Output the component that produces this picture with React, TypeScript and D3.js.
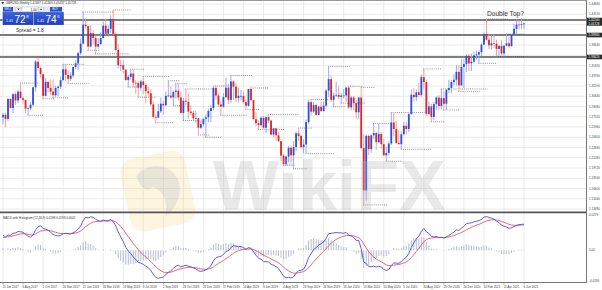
import React from "react";
import * as d3 from "d3";

// ---------- DATA (GBPUSD weekly, bar 0 = 11 Jun 2017) ----------
const firstOpen = 1.2745;

const highs = [
  // 2017 (Jun 11 – Dec 24)
  1.2815, 1.2815, 1.3030, 1.3030, 1.3115, 1.3125, 1.3165, 1.3265, 1.3060, 1.3010,
  1.2910, 1.2980, 1.3200, 1.3615, 1.3655, 1.3515, 1.3410, 1.3340, 1.3265, 1.3320,
  1.3320, 1.3225, 1.3225, 1.3365, 1.3550, 1.3550, 1.3460, 1.3430, 1.3515,
  // 2018
  1.3615, 1.3745, 1.3945, 1.4345, 1.4250, 1.4145, 1.4145, 1.4070, 1.3985, 1.3950,
  1.4040, 1.4200, 1.4245, 1.4145, 1.4295, 1.4377, 1.4050, 1.3860, 1.3615, 1.3615,
  1.3470, 1.3390, 1.3475, 1.3470, 1.3310, 1.3290, 1.3315, 1.3365, 1.3260, 1.3210,
  1.3175, 1.2990, 1.2790, 1.2950, 1.3045, 1.2995, 1.3140, 1.3300, 1.3215, 1.3150,
  1.3255, 1.3255, 1.3140, 1.3040, 1.3175, 1.3105, 1.2930, 1.2840, 1.2840, 1.2705,
  1.2700, 1.2725,
  // 2019
  1.2790, 1.2865, 1.2930, 1.3220, 1.3215, 1.3110, 1.2990, 1.3110, 1.3350, 1.3250,
  1.3380, 1.3305, 1.3265, 1.3195, 1.3160, 1.3130, 1.3015, 1.3175, 1.3190, 1.3005,
  1.2815, 1.2700, 1.2765, 1.2765, 1.2750, 1.2785, 1.2700, 1.2580, 1.2580, 1.2525,
  1.2385, 1.2190, 1.2160, 1.2310, 1.2310, 1.2385, 1.2530, 1.2580, 1.2480, 1.2410,
  1.2710, 1.3010, 1.3015, 1.2975, 1.2950, 1.2925, 1.2985, 1.2985, 1.3175, 1.3515,
  1.3375, 1.3120,
  // 2020
  1.3285, 1.3215, 1.3120, 1.3175, 1.3210, 1.3215, 1.3070, 1.3070, 1.3010, 1.3050,
  1.3200, 1.2485, 1.2485, 1.2480, 1.2485, 1.2650, 1.2525, 1.2645, 1.2520, 1.2410,
  1.2300, 1.2380, 1.2815, 1.2810, 1.2690, 1.2545, 1.2530, 1.2670, 1.2670, 1.2815,
  1.3170, 1.3185, 1.3165, 1.3265, 1.3395, 1.3480, 1.3310, 1.2985, 1.2950, 1.2975,
  1.3065, 1.3080, 1.3175, 1.3140, 1.3175, 1.3315, 1.3310, 1.3400, 1.3540, 1.3540,
  1.3625, 1.3625,
  // 2021
  1.3705, 1.3705, 1.3710, 1.3745, 1.3760, 1.3760, 1.3865, 1.4035, 1.4240, 1.4015,
  1.4000, 1.4015, 1.3925, 1.3850, 1.3920, 1.3840, 1.4010, 1.3975, 1.4005, 1.4165,
  1.4235, 1.4220, 1.4250, 1.4185,
];

const lows = [
  // 2017
  1.2635, 1.2590, 1.2690, 1.2880, 1.2810, 1.2930, 1.2965, 1.3030, 1.2955, 1.2810,
  1.2775, 1.2850, 1.2910, 1.3135, 1.3450, 1.3340, 1.3025, 1.3070, 1.3125, 1.3080,
  1.3040, 1.3060, 1.3065, 1.3175, 1.3300, 1.3300, 1.3260, 1.3300, 1.3350,
  // 2018
  1.3480, 1.3460, 1.3695, 1.3855, 1.4105, 1.3765, 1.3810, 1.3855, 1.3710, 1.3785,
  1.3840, 1.3945, 1.4005, 1.3965, 1.4030, 1.4000, 1.3750, 1.3485, 1.3450, 1.3410,
  1.3305, 1.3205, 1.3320, 1.3205, 1.3100, 1.3050, 1.3145, 1.3100, 1.2955, 1.3065,
  1.2920, 1.2725, 1.2660, 1.2730, 1.2810, 1.2785, 1.2920, 1.3050, 1.3030, 1.2920,
  1.3030, 1.3000, 1.2805, 1.2695, 1.2925, 1.2725, 1.2775, 1.2700, 1.2660, 1.2475,
  1.2565, 1.2600,
  // 2019
  1.2440, 1.2670, 1.2670, 1.2850, 1.3010, 1.2900, 1.2775, 1.2890, 1.3040, 1.2945,
  1.2960, 1.3005, 1.2980, 1.2970, 1.3000, 1.2960, 1.2865, 1.2905, 1.2990, 1.2710,
  1.2605, 1.2560, 1.2605, 1.2570, 1.2505, 1.2655, 1.2475, 1.2440, 1.2380, 1.2375,
  1.2080, 1.2015, 1.2015, 1.2065, 1.2070, 1.1960, 1.2230, 1.2385, 1.2270, 1.2195,
  1.2190, 1.2645, 1.2770, 1.2810, 1.2770, 1.2775, 1.2825, 1.2825, 1.2895, 1.3050,
  1.2975, 1.2905,
  // 2020
  1.3055, 1.3015, 1.2960, 1.3030, 1.2980, 1.2870, 1.2850, 1.2850, 1.2725, 1.2725,
  1.2260, 1.1410, 1.1475, 1.2165, 1.2205, 1.2415, 1.2250, 1.2355, 1.2265, 1.2160,
  1.2075, 1.2165, 1.2320, 1.2455, 1.2335, 1.2330, 1.2255, 1.2470, 1.2480, 1.2520,
  1.2790, 1.2980, 1.2990, 1.3055, 1.3055, 1.3170, 1.2760, 1.2780, 1.2675, 1.2705,
  1.2860, 1.2860, 1.2865, 1.2855, 1.2855, 1.3110, 1.3110, 1.3230, 1.3225, 1.3135,
  1.3225, 1.3190,
  // 2021
  1.3430, 1.3450, 1.3450, 1.3570, 1.3620, 1.3565, 1.3675, 1.3860, 1.3915, 1.3780,
  1.3775, 1.3800, 1.3670, 1.3670, 1.3670, 1.3670, 1.3820, 1.3795, 1.3825, 1.3995,
  1.4010, 1.4080, 1.4090, 1.4090,
];

const closes = [
  // 2017
  1.2780, 1.2720, 1.3025, 1.2885, 1.3095, 1.3000, 1.3135, 1.3035, 1.3010, 1.2875,
  1.2880, 1.2935, 1.3200, 1.3590, 1.3495, 1.3400, 1.3070, 1.3285, 1.3190, 1.3135,
  1.3080, 1.3190, 1.3210, 1.3310, 1.3475, 1.3390, 1.3330, 1.3380, 1.3510,
  // 2018
  1.3565, 1.3720, 1.3865, 1.4155, 1.4130, 1.3820, 1.4025, 1.3950, 1.3820, 1.3860,
  1.3950, 1.4140, 1.4015, 1.4090, 1.4240, 1.4010, 1.3770, 1.3535, 1.3540, 1.3470,
  1.3310, 1.3360, 1.3410, 1.3270, 1.3265, 1.3195, 1.3290, 1.3235, 1.3140, 1.3110,
  1.2940, 1.2750, 1.2740, 1.2835, 1.2950, 1.2925, 1.3070, 1.3075, 1.3045, 1.3130,
  1.3150, 1.3045, 1.2810, 1.2995, 1.2980, 1.2830, 1.2810, 1.2730, 1.2730, 1.2585,
  1.2640, 1.2720,
  // 2019
  1.2745, 1.2840, 1.2885, 1.3190, 1.3075, 1.2940, 1.2905, 1.3050, 1.3195, 1.3010,
  1.3290, 1.3210, 1.3035, 1.3070, 1.3070, 1.2975, 1.2920, 1.3175, 1.3005, 1.2715,
  1.2655, 1.2625, 1.2735, 1.2585, 1.2745, 1.2695, 1.2480, 1.2575, 1.2470, 1.2380,
  1.2160, 1.2030, 1.2145, 1.2280, 1.2165, 1.2290, 1.2500, 1.2460, 1.2290, 1.2330,
  1.2670, 1.2975, 1.2830, 1.2930, 1.2780, 1.2905, 1.2840, 1.2920, 1.3150, 1.3325,
  1.3010, 1.3075,
  // 2020
  1.3085, 1.3055, 1.3075, 1.3075, 1.3195, 1.2895, 1.3045, 1.2960, 1.2820, 1.3045,
  1.2275, 1.1630, 1.2460, 1.2260, 1.2470, 1.2505, 1.2365, 1.2490, 1.2335, 1.2165,
  1.2200, 1.2345, 1.2665, 1.2565, 1.2355, 1.2335, 1.2485, 1.2615, 1.2565, 1.2790,
  1.3085, 1.3050, 1.3125, 1.3085, 1.3355, 1.3280, 1.2795, 1.2910, 1.2750, 1.2945,
  1.3045, 1.2915, 1.3035, 1.2950, 1.3160, 1.3190, 1.3280, 1.3315, 1.3435, 1.3230,
  1.3510, 1.3555,
  // 2021
  1.3680, 1.3565, 1.3590, 1.3685, 1.3700, 1.3735, 1.3850, 1.4010, 1.3925, 1.3840,
  1.3870, 1.3865, 1.3785, 1.3830, 1.3715, 1.3835, 1.3870, 1.3825, 1.4000, 1.4090,
  1.4155, 1.4150, 1.4160, 1.4172,
];

// closes before bar 0, used only to warm up the MACD averages (Nov 2016 – Jun 4 2017)
const warmupCloses = [
  1.2455, 1.2385, 1.2475, 1.2585, 1.2560, 1.2490, 1.2290, 1.2340, 1.2280, 1.2185,
  1.2375, 1.2550, 1.2480, 1.2485, 1.2410, 1.2475, 1.2270, 1.2170, 1.2395, 1.2475,
  1.2550, 1.2395, 1.2540, 1.2835, 1.2950, 1.2965, 1.2885, 1.3050, 1.2795, 1.2885,
  1.2745,
];

const dateLabels = [
  "11 Jun 2017", "6 Aug 2017", "1 Oct 2017", "26 Nov 2017", "21 Jan 2018", "18 Mar 2018",
  "13 May 2018", "8 Jul 2018", "2 Sep 2018", "28 Oct 2018", "23 Dec 2018", "17 Feb 2019",
  "14 Apr 2019", "9 Jun 2019", "4 Aug 2019", "29 Sep 2019", "24 Nov 2019", "19 Jan 2020",
  "15 Mar 2020", "10 May 2020", "5 Jul 2020", "30 Aug 2020", "25 Oct 2020", "20 Dec 2020",
  "14 Feb 2021", "11 Apr 2021", "6 Jun 2021",
];
const dateLabelEvery = 8;

const priceTicks = [
  1.4468, 1.4312, 1.4156, 1.4, 1.3844, 1.3688, 1.3532, 1.3376, 1.322, 1.3064, 1.2908,
  1.2752, 1.2596, 1.244, 1.2284, 1.2128, 1.1972, 1.1816, 1.166, 1.1504, 1.1348,
];

const keyLevels = [1.4224, 1.3996, 1.3662];
const currentPrice = 1.41728;
const macdTicks = [0.0279, 0, -0.0236];
const macdTickLabels = ["0.0279", "0.00", "-0.0236"];

const titleText = "GBPUSD,Weekly  1.41697 1.41803 1.41437 1.41728";
const sellPrice = { big: "1.41", pips: "72", frac: "8" };
const buyPrice = { big: "1.41", pips: "74", frac: "6" };
const spreadText = "Spread = 1.8";
const lotText = "1.00";
const noteText = "Double Top?";

// ---------- helpers ----------
function ema(arr: number[], n: number): number[] {
  const k = 2 / (n + 1);
  const out: number[] = [];
  let prev = arr[0];
  arr.forEach((v, i) => {
    prev = i === 0 ? v : v * k + prev * (1 - k);
    out.push(prev);
  });
  return out;
}

const FONT = "'Liberation Sans', Arial, sans-serif";

export default function App() {
  const n = closes.length;
  const plotRight = 586;
  const mainTop = 0;
  const mainBottom = 212;
  const macdTop = 213;
  const macdBottom = 282;

  const x = d3.scaleLinear().domain([0, n - 1]).range([3, 3 + (n - 1) * 2.505]);
  const y = d3.scaleLinear().domain([1.1409, 1.4377]).range([205, 10]);
  const ym = d3.scaleLinear().domain([-0.0236, 0.0279]).range([281.5, 213.5]);
  const fmt = d3.format(".5f");

  const opens = closes.map((_, i) => (i === 0 ? firstOpen : closes[i - 1]));

  // MACD (12,26,9)
  const all = [...warmupCloses, ...closes];
  const e12 = ema(all, 12);
  const e26 = ema(all, 26);
  const macdAll = e12.map((v, i) => v - e26[i]);
  const sigAll = ema(macdAll, 9);
  const off = warmupCloses.length;
  const macd = macdAll.slice(off);
  const signal = sigAll.slice(off);
  const hist = macd.map((v, i) => v - signal[i]);

  const line = d3
    .line<number>()
    .x((_, i) => x(i))
    .y((d) => ym(d));

  // fractal levels
  type Seg = { i: number; j: number; v: number };
  const segs: Seg[] = [];
  const hiIdx: number[] = [];
  const loIdx: number[] = [];
  for (let i = 2; i < n - 2; i++) {
    if (highs[i] > highs[i - 1] && highs[i] > highs[i - 2] && highs[i] >= highs[i + 1] && highs[i] >= highs[i + 2]) hiIdx.push(i);
    if (lows[i] < lows[i - 1] && lows[i] < lows[i - 2] && lows[i] <= lows[i + 1] && lows[i] <= lows[i + 2]) loIdx.push(i);
  }
  const mk = (idx: number[], vals: number[]) => {
    idx.forEach((i, k) => {
      const next = k + 1 < idx.length ? idx[k + 1] : n - 1;
      const j = Math.min(Math.max(next, i + 4), i + 22, n - 1);
      segs.push({ i, j, v: vals[i] });
    });
  };
  mk(hiIdx, highs);
  mk(loIdx, lows);

  const gridXs = dateLabels.map((_, k) => x(k * dateLabelEvery));
  const bull = "#2c4fe0";
  const bear = "#e02525";

  const boxLevels = [...keyLevels, currentPrice];
  const visibleTicks = priceTicks.filter((p) => boxLevels.every((b) => Math.abs(y(p) - y(b)) > 4.2));

  const last = n - 1;
  const macdLabel = `MACD with Histogram (12,26,9) ${macd[last].toFixed(4)} ${signal[last].toFixed(4)} ${hist[last].toFixed(4)}`;

  return (
    <svg
      width={602}
      height={290}
      viewBox="0 0 602 290"
      style={{ position: "absolute", left: 0, top: 0, background: "#fff" }}
      fontFamily={FONT}
    >
      <defs>
        <clipPath id="mainClip">
          <rect x={0} y={mainTop + 0.5} width={plotRight} height={mainBottom - mainTop - 1} />
        </clipPath>
        <clipPath id="macdClip">
          <rect x={0} y={macdTop} width={plotRight} height={macdBottom - macdTop} />
        </clipPath>
        <linearGradient id="btnGrad" x1="0" y1="0" x2="0" y2="1">
          <stop offset="0" stopColor="#3d63e0" />
          <stop offset="1" stopColor="#1f3fb8" />
        </linearGradient>
      </defs>

      <rect x={0} y={0} width={602} height={290} fill="#fff" />

      {/* grid */}
      <g stroke="#e6e6e6" strokeWidth={0.8}>
        {gridXs.map((gx, k) => (
          <line key={"gx" + k} x1={gx} x2={gx} y1={mainTop} y2={macdBottom} />
        ))}
        {priceTicks.map((p, k) => (
          <line key={"gy" + k} x1={0} x2={plotRight} y1={y(p)} y2={y(p)} />
        ))}
      </g>

      {/* key horizontal levels */}
      {keyLevels.map((lv, k) => (
        <line key={"kl" + k} x1={0} x2={plotRight} y1={y(lv)} y2={y(lv)} stroke="#555" strokeWidth={1.4} />
      ))}

      {/* fractal dotted levels */}
      <g clipPath="url(#mainClip)" stroke="#444" strokeWidth={0.7} strokeDasharray="0.8 1.3">
        {segs.map((s, k) => (
          <line key={"fs" + k} x1={x(s.i) - 0.5} x2={x(s.j) + 1} y1={y(s.v)} y2={y(s.v)} />
        ))}
      </g>

      {/* candles */}
      <g clipPath="url(#mainClip)">
        {closes.map((c, i) => {
          const o = opens[i];
          const up = c >= o;
          const cx = x(i);
          const hi = Math.max(highs[i], o, c);
          const lo = Math.min(lows[i], o, c);
          const top = y(Math.max(o, c));
          const bh = Math.max(0.7, Math.abs(y(o) - y(c)));
          return (
            <g key={"c" + i}>
              <line x1={cx} x2={cx} y1={y(hi)} y2={y(lo)} stroke={up ? "#8ea0f2" : "#f09898"} strokeWidth={0.9} />
              <rect x={cx - 0.9} y={top} width={1.8} height={bh} fill={up ? bull : bear} />
            </g>
          );
        })}
      </g>

      {/* MACD panel */}
      <g clipPath="url(#macdClip)">
        <g stroke="#aab4c8" strokeWidth={0.9}>
          {hist.map((h, i) => (
            <line key={"h" + i} x1={x(i)} x2={x(i)} y1={ym(0)} y2={ym(h)} />
          ))}
        </g>
        <path d={line(signal) || ""} fill="none" stroke="#e8575d" strokeWidth={0.9} />
        <path d={line(macd) || ""} fill="none" stroke="#4b4bef" strokeWidth={0.9} />
      </g>
      <text x={3} y={218.5} fontSize={3} fill="#333">{macdLabel}</text>

      {/* watermark */}
      <g opacity={0.38}>
        <g transform="translate(158,192) rotate(-12)">
          <rect x={-33} y={-38} width={66} height={74} rx={14} fill="#f2cf6a" opacity={0.55} />
          <path d="M-18,-20 C-5,-32 18,-26 22,-8 C25,6 14,20 2,26 C8,12 6,0 -4,-6 C-10,-2 -16,-6 -18,-20 Z" fill="#8a8a8a" opacity={0.45} />
        </g>
        <text x={213} y={210} fontSize={70} fontWeight="bold" fill="#b5b5b5" opacity={0.75} fontFamily={FONT}>
          WikiFX
        </text>
      </g>

      {/* panel borders */}
      <line x1={0} x2={plotRight} y1={0.5} y2={0.5} stroke="#999" strokeWidth={1} />
      <line x1={0} x2={plotRight + 0.5} y1={212.3} y2={212.3} stroke="#555" strokeWidth={1.8} />
      <line x1={0} x2={plotRight + 0.5} y1={282.5} y2={282.5} stroke="#777" strokeWidth={1} />
      <line x1={plotRight + 0.5} x2={plotRight + 0.5} y1={0} y2={283} stroke="#777" strokeWidth={1} />

      {/* price axis labels */}
      <g fontSize={3} fill="#444">
        {visibleTicks.map((p, k) => (
          <text key={"pt" + k} x={589} y={y(p) + 1}>{fmt(p)}</text>
        ))}
      </g>
      {boxLevels.map((p, k) => (
        <g key={"pb" + k}>
          <rect x={587} y={y(p) - 2.3} width={15} height={4.6} fill="#2b2b2b" />
          <text x={588.5} y={y(p) + 1.1} fontSize={3} fill="#fff">{fmt(p)}</text>
        </g>
      ))}

      {/* MACD axis labels */}
      <g fontSize={3} fill="#444">
        {macdTicks.map((v, k) => (
          <text key={"mt" + k} x={589} y={Math.min(Math.max(ym(v) + 1, 216), 282)}>{macdTickLabels[k]}</text>
        ))}
      </g>

      {/* date axis */}
      <g fontSize={3} fill="#444">
        {dateLabels.map((d, k) => (
          <g key={"dl" + k}>
            <line x1={gridXs[k]} x2={gridXs[k]} y1={282.5} y2={284.5} stroke="#777" strokeWidth={0.6} />
            <text x={gridXs[k] - 0.5} y={287.5}>{d}</text>
          </g>
        ))}
      </g>

      {/* title */}
      <path d="M1.2,2 L4.2,2 L2.7,4.6 Z" fill="#444" />
      <text x={6} y={4.3} fontSize={3} fill="#333">{titleText}</text>

      {/* one-click trading panel */}
      <g>
        <rect x={2.5} y={6.5} width={61} height={18.5} fill="#dfe5f5" />
        <rect x={3} y={7} width={10} height={4.6} fill="#2a4fcf" />
        <text x={4.3} y={10.4} fontSize={2.9} fill="#fff">SELL</text>
        <rect x={16} y={7} width={5} height={4.6} fill="#f4f4f4" stroke="#999" strokeWidth={0.3} />
        <path d="M17.3,8.6 L19.7,8.6 L18.5,10.2 Z" fill="#333" />
        <rect x={22} y={7} width={16} height={4.6} fill="#fff" stroke="#999" strokeWidth={0.3} />
        <text x={36.8} y={10.5} fontSize={3.2} fill="#222" textAnchor="end">{lotText}</text>
        <rect x={38.5} y={7} width={5} height={4.6} fill="#f4f4f4" stroke="#999" strokeWidth={0.3} />
        <path d="M39.8,10.1 L42.2,10.1 L41,8.5 Z" fill="#333" />
        <rect x={50} y={7} width={12} height={4.6} fill="#2a4fcf" />
        <text x={52.3} y={10.4} fontSize={2.9} fill="#fff">BUY</text>

        <rect x={3} y={12.3} width={30} height={12.5} fill="url(#btnGrad)" stroke="#1a3596" strokeWidth={0.4} />
        <text x={6} y={21.5} fontSize={3.6} fill="#fff">{sellPrice.big}</text>
        <text x={14.5} y={23} fontSize={10} fill="#fff">{sellPrice.pips}</text>
        <text x={26.3} y={17.5} fontSize={4.3} fill="#fff">{sellPrice.frac}</text>

        <rect x={34} y={12.3} width={29.5} height={12.5} fill="url(#btnGrad)" stroke="#1a3596" strokeWidth={0.4} />
        <text x={37} y={21.5} fontSize={3.6} fill="#fff">{buyPrice.big}</text>
        <text x={45.5} y={23} fontSize={10} fill="#fff">{buyPrice.pips}</text>
        <text x={57.3} y={17.5} fontSize={4.3} fill="#fff">{buyPrice.frac}</text>
      </g>
      <text x={16} y={31.5} fontSize={4.8} fill="#333">{spreadText}</text>

      {/* annotation */}
      <text x={487} y={15.5} fontSize={6.6} fill="#333">{noteText}</text>
    </svg>
  );
}
